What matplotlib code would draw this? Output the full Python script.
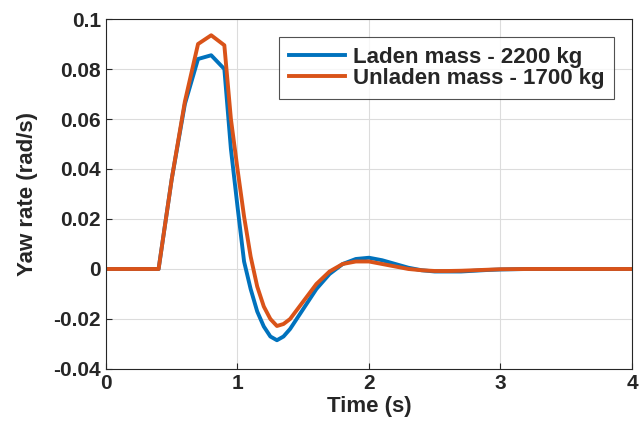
import numpy as np
import matplotlib
matplotlib.use('Agg')
import matplotlib.pyplot as plt

plt.rcParams['font.family'] = ['Liberation Sans', 'DejaVu Sans']
plt.rcParams['font.weight'] = 'bold'

# time samples (s) - finer where the response changes quickly
time = [0, 0.4, 0.5, 0.6, 0.7, 0.8, 0.9, 0.95, 1.0, 1.05, 1.1, 1.15, 1.2, 1.25, 1.3,
        1.35, 1.4, 1.5, 1.6, 1.7, 1.8, 1.9, 2.0, 2.1, 2.2, 2.3, 2.4, 2.5, 2.6, 2.7,
        2.8, 2.9, 3.0, 3.2, 4.0]

# yaw rate (rad/s), laden vehicle
laden = [0, 0, 0.036, 0.066, 0.084, 0.0855, 0.080, 0.048, 0.025, 0.003, -0.008,
         -0.017, -0.023, -0.027, -0.0285, -0.027, -0.024, -0.016, -0.008, -0.002,
         0.002, 0.004, 0.0045, 0.0035, 0.002, 0.0005, -0.0005, -0.001, -0.001,
         -0.001, -0.0007, -0.0004, -0.0002, 0, 0]

# yaw rate (rad/s), unladen vehicle
unladen = [0, 0, 0.036, 0.067, 0.090, 0.0935, 0.0895, 0.060, 0.040, 0.021, 0.005,
           -0.007, -0.015, -0.020, -0.0228, -0.022, -0.020, -0.013, -0.006, -0.001,
           0.002, 0.003, 0.003, 0.002, 0.001, 0.0, -0.0005, -0.0008, -0.0008,
           -0.0007, -0.0005, -0.0003, -0.0001, 0, 0]

labels = ['Laden mass - 2200 kg', 'Unladen mass - 1700 kg']
xticks = [0, 1, 2, 3, 4]
yticks = [-0.04, -0.02, 0, 0.02, 0.04, 0.06, 0.08, 0.1]
yticklabels = ['-0.04', '-0.02', '0', '0.02', '0.04', '0.06', '0.08', '0.1']

fig = plt.figure(figsize=(6.4, 4.34), dpi=100, facecolor='white')
ax = fig.add_axes([0.1656, 0.1498, 0.8219, 0.8064])

ax.plot(time, laden, color='#0072BD', lw=2.8, label=labels[0])
ax.plot(time, unladen, color='#D95319', lw=2.8, label=labels[1])

ax.set_xlim(0, 4)
ax.set_ylim(-0.04, 0.1)
ax.set_xticks(xticks)
ax.set_yticks(yticks)
ax.set_yticklabels(yticklabels)
ax.tick_params(direction='in', length=4, labelsize=15, colors='#262626', width=0.8)
for lab in ax.get_xticklabels() + ax.get_yticklabels():
    lab.set_fontweight('bold')
ax.grid(True, color='#dcdcdc', lw=0.8)
ax.set_axisbelow(True)
for sp in ax.spines.values():
    sp.set_color('#262626')
    sp.set_linewidth(0.8)

ax.set_xlabel('Time (s)', fontsize=16, fontweight='bold', color='#262626', labelpad=2)
ax.set_ylabel('Yaw rate (rad/s)', fontsize=16, fontweight='bold', color='#262626', labelpad=11)

leg = ax.legend(loc='upper right', fontsize=16, frameon=True, fancybox=False,
                edgecolor='#262626', handlelength=2.5, handletextpad=0.35,
                borderpad=0.45, labelspacing=0.0, borderaxespad=0.8)
leg.get_frame().set_linewidth(0.8)
for t in leg.get_texts():
    t.set_fontweight('bold')
    t.set_color('#262626')

plt.savefig('out.png', dpi=100, facecolor='white')
